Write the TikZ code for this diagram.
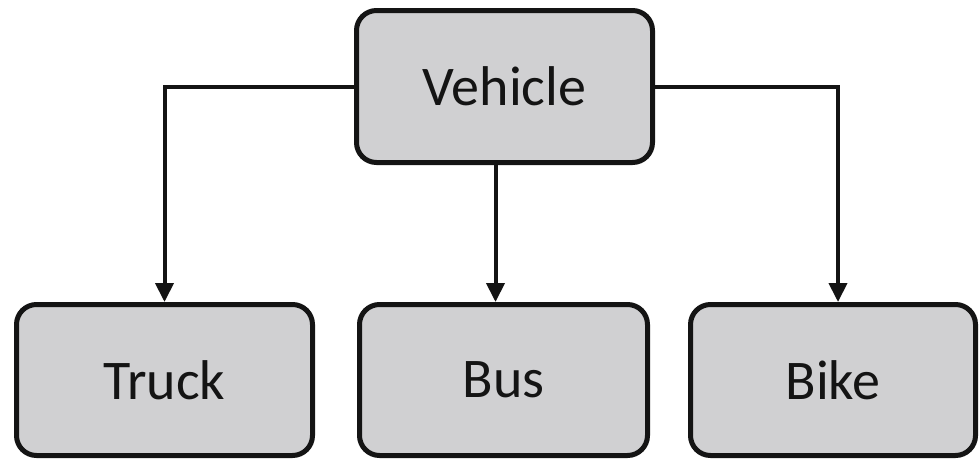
\documentclass[tikz,border=0pt]{standalone}
\usepackage{fontspec}
\setmainfont{Carlito}
\usetikzlibrary{arrows.meta}
\definecolor{boxfill}{RGB}{208,208,210}
\definecolor{ink}{RGB}{20,20,20}
\begin{document}
\begin{tikzpicture}[x=1pt,y=-1pt,
  box/.style={draw=ink,line width=5pt,fill=boxfill,rounded corners=20pt,
    inner sep=0pt,font=\fontsize{56}{60}\selectfont,text=ink},
  arr/.style={draw=ink,line width=4pt,-{Triangle[width=18pt,length=19pt]}}]
\useasboundingbox (0,0) rectangle (979,461);
\node[box,minimum width=296pt,minimum height=152pt] (v) at (504.5,86.5) {Vehicle};
\node[box,minimum width=296pt,minimum height=151pt] (t) at (164.5,380) {Truck};
\node[box,minimum width=288pt,minimum height=151pt] (bus) at (503.5,380) {Bus};
\node[box,minimum width=285pt,minimum height=151pt] (bk) at (833,380) {Bike};
\draw[arr] (v.west) -| (t.north);
\draw[arr] ([xshift=-9pt]v.south) -- ([xshift=-8pt]bus.north);
\draw[arr] (v.east) -| ([xshift=5pt]bk.north);
\end{tikzpicture}
\end{document}
